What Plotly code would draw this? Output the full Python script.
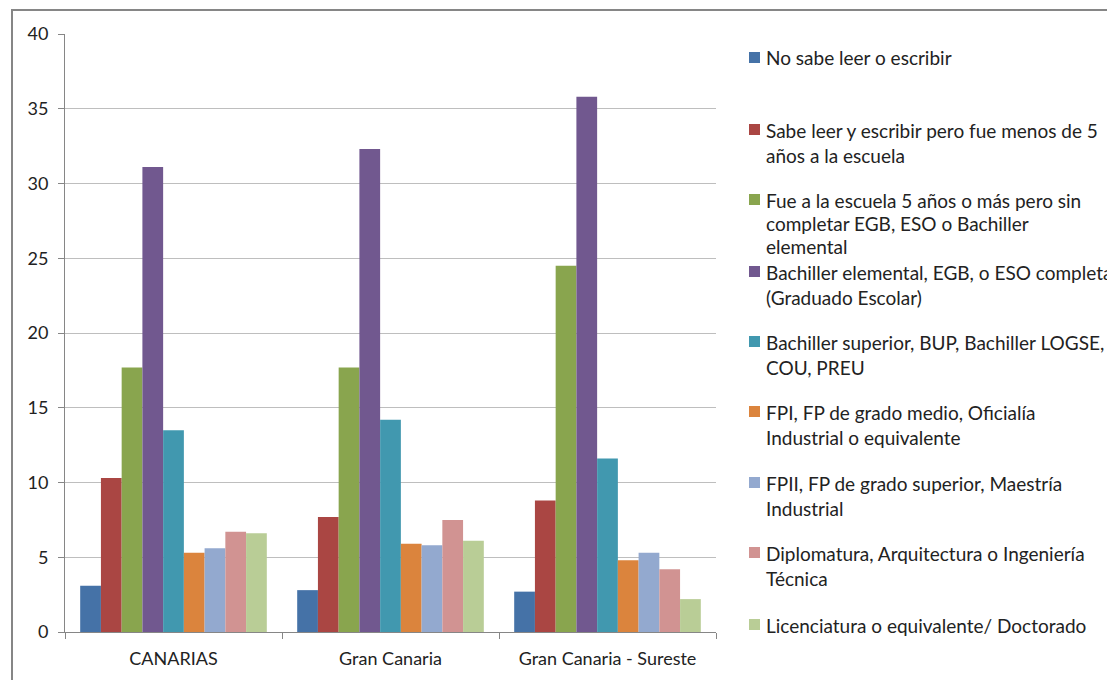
import plotly.graph_objects as go

# categorias del eje x
zonas = ["CANARIAS", "Gran Canaria", "Gran Canaria - Sureste"]

# nivel de estudios (texto de leyenda, ya partido en lineas)
niveles = [
    ["No sabe leer o escribir"],
    ["Sabe leer y escribir pero fue menos de 5", "años a la escuela"],
    ["Fue a la escuela 5 años o más pero sin", "completar EGB, ESO o Bachiller", "elemental"],
    ["Bachiller elemental, EGB, o ESO completa", "(Graduado Escolar)"],
    ["Bachiller superior, BUP, Bachiller LOGSE,", "COU, PREU"],
    ["FPI, FP de grado medio, Oficialía", "Industrial o equivalente"],
    ["FPII, FP de grado superior, Maestría", "Industrial"],
    ["Diplomatura, Arquitectura o Ingeniería", "Técnica"],
    ["Licenciatura o equivalente/ Doctorado"],
]

# porcentajes por nivel: [CANARIAS, Gran Canaria, GC - Sureste]
no_sabe = [3.1, 2.8, 2.7]
menos_5 = [10.3, 7.7, 8.8]
sin_completar = [17.7, 17.7, 24.5]
graduado = [31.1, 32.3, 35.8]
bachiller_sup = [13.5, 14.2, 11.6]
fp1 = [5.3, 5.9, 4.8]
fp2 = [5.6, 5.8, 5.3]
diplomatura = [6.7, 7.5, 4.2]
licenciatura = [6.6, 6.1, 2.2]

valores = [no_sabe, menos_5, sin_completar, graduado, bachiller_sup,
           fp1, fp2, diplomatura, licenciatura]

colores = ["#4572A7", "#AA4643", "#89A54E", "#71588F", "#4198AF",
           "#DB843D", "#93A9CF", "#D19392", "#B9CD96"]

FONT = "Lato"
OFF = 8  # margen del body de la pagina
W, H = 1115 - OFF, 680 - OFF
# area de trazado en px de pagina
L, R, T, B = 65, 716, 34, 632


def px_x(x):
    return (x - L) / (R - L)


def px_y(y):
    return (B - y) / (B - T)


fig = go.Figure()
for nombre, vals, col in zip(niveles, valores, colores):
    fig.add_trace(go.Bar(x=zonas, y=vals, name=" ".join(nombre),
                         marker=dict(color=col, line=dict(width=0))))

# leyenda manual (Excel reparte las entradas uniformemente)
inicio = [58, 130, 200, 272, 342, 412, 483, 553, 625]
saltos = [25, 25, 23, 25, 25, 25, 25, 25, 25]
anots = []
shapes = []
for nombre, col, y0, salto in zip(niveles, colores, inicio, saltos):
    shapes.append(dict(type="rect", xref="paper", yref="paper",
                       x0=px_x(749), x1=px_x(760), y0=px_y(y0 + 5), y1=px_y(y0 - 6),
                       fillcolor=col, line=dict(width=0)))
    for i, linea in enumerate(nombre):
        anots.append(dict(text=linea, xref="paper", yref="paper",
                          x=px_x(764), y=px_y(y0 + i * salto),
                          xanchor="left", yanchor="middle", showarrow=False,
                          font=dict(family=FONT, size=19, color="#222")))

# marco del grafico
shapes.append(dict(type="rect", xref="paper", yref="paper",
                   x0=px_x(12), x1=3, y0=-1, y1=px_y(10),
                   line=dict(color="#868686", width=2), layer="below"))

fig.update_layout(
    width=W, height=H,
    margin=dict(l=L - OFF, r=1115 - R, t=T - OFF, b=680 - B),
    plot_bgcolor="white", paper_bgcolor="white",
    barmode="group", bargap=0.14, bargroupgap=0,
    showlegend=False,
    font=dict(family=FONT, size=17, color="#222"),
    annotations=anots, shapes=shapes,
)
fig.update_yaxes(range=[0, 40], dtick=5, showgrid=True, gridcolor="#BEBEBE",
                 showline=True, linecolor="#868686", ticks="outside", ticklen=6,
                 tickcolor="#868686", zeroline=False, ticklabelstandoff=6,
                 tickfont=dict(family=FONT, size=18, color="#222"))
fig.update_xaxes(showline=True, linecolor="#868686", ticks="outside", ticklen=6,
                 tickcolor="#868686", tickson="boundaries", ticklabelstandoff=10,
                 tickfont=dict(family=FONT, size=18, color="#222"))

fig.write_html("out.html")
